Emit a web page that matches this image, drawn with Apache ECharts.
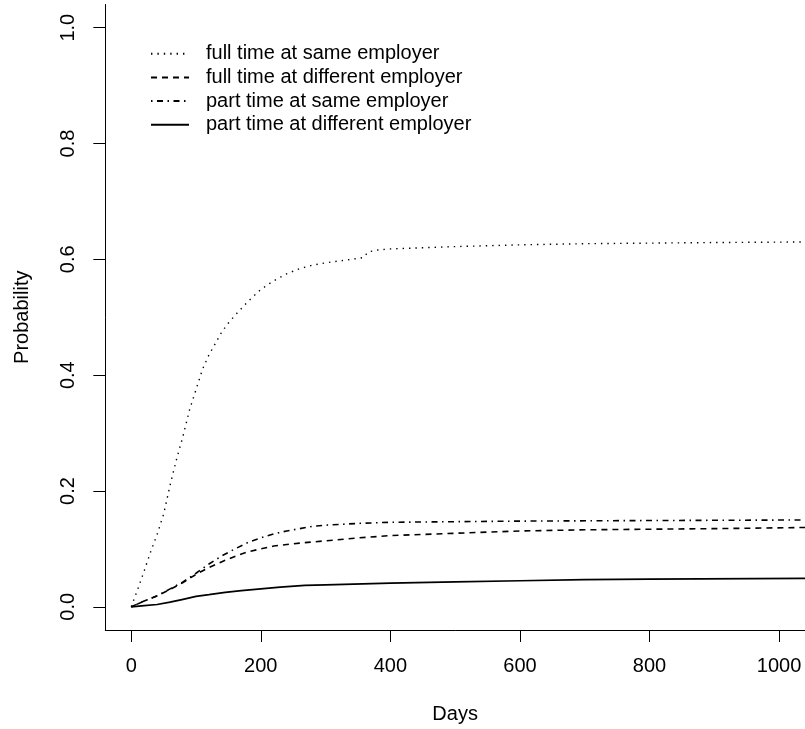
<!DOCTYPE html>
<html>
<head>
<meta charset="utf-8">
<script src="https://cdn.jsdelivr.net/npm/echarts@6/dist/echarts.min.js"></script>
<style>
html,body{margin:0;padding:0;background:#fff;}
#chart{width:805px;height:729px;}
</style>
</head>
<body>
<div id="chart"></div>
<script>
// ---- data ----
const seriesNames = [
  'full time at same employer',
  'full time at different employer',
  'part time at same employer',
  'part time at different employer'
];
const xTicks = [0, 200, 400, 600, 800, 1000];
const yTicks = [0, 0.2, 0.4, 0.6, 0.8, 1.0];

const fullSameDays = [0,10,20,30,40,50,60,70,80,90,100,110,120,130,140,150,160,170,180,200,220,240,260,280,300,320,340,358,366,380,400,450,500,600,700,800,900,1040];
const fullSameProb = [0,0.03,0.062,0.095,0.125,0.16,0.21,0.255,0.295,0.34,0.375,0.41,0.435,0.455,0.475,0.49,0.503,0.515,0.527,0.548,0.563,0.575,0.584,0.59,0.594,0.597,0.6,0.603,0.613,0.616,0.618,0.62,0.622,0.625,0.627,0.628,0.629,0.63];

const fullDiffDays = [0,20,40,60,80,100,120,140,160,180,200,220,260,300,350,400,500,600,700,800,900,1040];
const fullDiffProb = [0,0.01,0.019,0.03,0.042,0.056,0.068,0.078,0.087,0.095,0.1,0.105,0.11,0.114,0.119,0.123,0.127,0.131,0.133,0.134,0.135,0.137];

const partSameDays = [0,20,40,60,80,100,120,140,160,180,200,220,240,260,280,300,350,400,500,600,800,1040];
const partSameProb = [0,0.01,0.019,0.031,0.043,0.058,0.074,0.088,0.1,0.111,0.119,0.126,0.131,0.135,0.139,0.141,0.144,0.146,0.147,0.148,0.149,0.15];

const partDiffDays = [0,20,40,60,80,100,120,145,170,200,230,268,300,400,500,600,700,800,1040];
const partDiffProb = [0,0.002,0.004,0.008,0.013,0.018,0.021,0.025,0.028,0.031,0.034,0.037,0.038,0.041,0.043,0.045,0.047,0.048,0.049];

function pairs(xs, ys){ return xs.map((x,i)=>[x, ys[i]]); }

const FONT = "'Liberation Sans', Arial, Helvetica, sans-serif";
const chart = echarts.init(document.getElementById('chart'), null, {renderer:'canvas'});

const lineStyles = [
  {color:'#000', width:1.4, type:[1.4,5], cap:'butt'},
  {color:'#000', width:1.6, type:[6,5]},
  {color:'#000', width:1.6, type:[1.5,4.5,6,4.5]},
  {color:'#000', width:1.7, type:'solid'}
];
const seriesData = [
  pairs(fullSameDays, fullSameProb),
  pairs(fullDiffDays, fullDiffProb),
  pairs(partSameDays, partSameProb),
  pairs(partDiffDays, partDiffProb)
];

chart.setOption({
  animation: false,
  backgroundColor: '#fff',
  textStyle: {fontFamily: FONT},
  grid: {left: 105.3, top: 4.5, width: 700, height: 627.2, containLabel: false},
  legend: {
    orient: 'vertical',
    left: 150, top: 43.7,
    padding: 0,
    itemWidth: 38, itemHeight: 20, itemGap: 3.7,
    data: seriesNames,
    itemStyle: {opacity: 0},
    textStyle: {fontSize: 20, color: '#000', fontFamily: FONT, padding: [0,0,0,12]},
    selectedMode: false
  },
  xAxis: {
    type: 'value', min: -40, max: 1040,
    name: 'Days', nameLocation: 'middle', nameGap: 74,
    nameTextStyle: {fontSize: 20, color: '#000', fontFamily: FONT},
    axisLine: {show: true, onZero: false, lineStyle: {color: '#000', width: 1}},
    axisTick: {show: true, length: 12, customValues: xTicks, lineStyle: {color: '#000', width: 1}},
    axisLabel: {customValues: xTicks, fontSize: 20, color: '#000', margin: 26, fontFamily: FONT,
      formatter: v => String(v)},
    splitLine: {show: false}
  },
  yAxis: {
    type: 'value', min: -0.04, max: 1.04,
    name: 'Probability', nameLocation: 'middle', nameGap: 73,
    nameTextStyle: {fontSize: 20, color: '#000', fontFamily: FONT},
    axisLine: {show: true, onZero: false, lineStyle: {color: '#000', width: 1}},
    axisTick: {show: true, length: 12, customValues: yTicks, lineStyle: {color: '#000', width: 1}},
    axisLabel: {customValues: yTicks, fontSize: 20, color: '#000', margin: 27, rotate: 90,
      fontFamily: FONT, formatter: v => Number(v).toFixed(1)},
    splitLine: {show: false}
  },
  series: seriesNames.map((name, i) => ({
    name: name,
    type: 'line',
    data: seriesData[i],
    symbol: 'none',
    showSymbol: false,
    silent: true,
    lineStyle: lineStyles[i],
    itemStyle: {color: '#000'}
  }))
});
</script>
</body>
</html>
